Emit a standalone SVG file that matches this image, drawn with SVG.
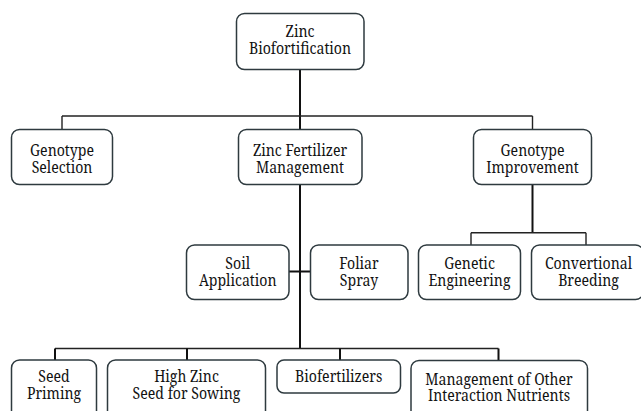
<svg xmlns="http://www.w3.org/2000/svg" width="641" height="411" viewBox="0 0 641 411">
<style>
.box{fill:#fff;stroke:#2e3a3f;stroke-width:1.5}
.t{font-family:'Noto Serif','DejaVu Serif',serif;font-size:15.5px;fill:#111;text-anchor:middle}
.c{fill:none;stroke:#111;stroke-width:2}
.c2{fill:none;stroke:#222;stroke-width:1.4}
</style>
<rect width="641" height="411" fill="#fff"/>
<g id="connectors">
<path class="c" d="M300 69.5V129.5"/>
<path class="c2" d="M62 116H532.5"/>
<path class="c2" d="M62 116V129.5M532.5 116V129.5"/>
<path class="c" d="M300 184.5V348.5"/>
<path class="c" d="M289 271.5H310.5"/>
<path class="c2" d="M55 348.5H498.5"/>
<path class="c" d="M55 348.5V360M187 348.5V360M340 348.5V360M498.5 348.5V360.5"/>
<path class="c" d="M532.5 184.5V232.7"/>
<path class="c2" d="M471 232.7H586M471 232.7V245M586 232.7V245"/>
</g>
<g id="root"><rect class="box" x="236.5" y="13.5" width="127.5" height="56" rx="8"/><text class="t" transform="translate(300 37) scale(0.91 1)">Zinc</text><text class="t" transform="translate(300 53.5) scale(0.91 1)">Biofortification</text></g>
<g id="genotype-selection"><rect class="box" x="11.5" y="129.5" width="101" height="55" rx="8"/><text class="t" transform="translate(62 155.5) scale(0.91 1)">Genotype</text><text class="t" transform="translate(62 172.5) scale(0.91 1)">Selection</text></g>
<g id="zinc-fertilizer"><rect class="box" x="238.5" y="129.5" width="123.5" height="55" rx="8"/><text class="t" transform="translate(300 155.5) scale(0.91 1)">Zinc Fertilizer</text><text class="t" transform="translate(300 173) scale(0.91 1)">Management</text></g>
<g id="genotype-improvement"><rect class="box" x="473.5" y="129.5" width="118" height="55" rx="8"/><text class="t" transform="translate(532.5 155.5) scale(0.91 1)">Genotype</text><text class="t" transform="translate(532.5 172.5) scale(0.91 1)">Improvement</text></g>
<g id="soil"><rect class="box" x="186.5" y="245" width="102.5" height="54.5" rx="8"/><text class="t" transform="translate(237.7 269) scale(0.91 1)">Soil</text><text class="t" transform="translate(237.7 285.5) scale(0.91 1)">Application</text></g>
<g id="foliar"><rect class="box" x="310.5" y="245" width="97.5" height="54.5" rx="8"/><text class="t" transform="translate(359 269) scale(0.91 1)">Foliar</text><text class="t" transform="translate(359 285.5) scale(0.91 1)">Spray</text></g>
<g id="genetic"><rect class="box" x="418.5" y="245" width="102" height="54.5" rx="8"/><text class="t" transform="translate(469.5 269) scale(0.91 1)">Genetic</text><text class="t" transform="translate(469.5 285.5) scale(0.91 1)">Engineering</text></g>
<g id="conventional"><rect class="box" x="531.5" y="245" width="112" height="54.5" rx="8"/><text class="t" transform="translate(588.5 269) scale(0.91 1)">Convertional</text><text class="t" transform="translate(588.5 285.5) scale(0.91 1)">Breeding</text></g>
<g id="seed-priming"><rect class="box" x="11.5" y="360" width="85" height="70" rx="8"/><text class="t" transform="translate(54 382) scale(0.91 1)">Seed</text><text class="t" transform="translate(54 398.5) scale(0.91 1)">Priming</text></g>
<g id="high-zinc"><rect class="box" x="107.5" y="360" width="158" height="70" rx="8"/><text class="t" transform="translate(186.5 382) scale(0.91 1)">High Zinc</text><text class="t" transform="translate(186.5 398.5) scale(0.91 1)">Seed for Sowing</text></g>
<g id="biofertilizers"><rect class="box" x="277" y="360" width="123.5" height="33" rx="7"/><text class="t" transform="translate(338.7 382) scale(0.91 1)">Biofertilizers</text></g>
<g id="management"><rect class="box" x="411" y="360.5" width="176.5" height="70" rx="8"/><text class="t" transform="translate(499 385) scale(0.91 1)">Management of Other</text><text class="t" transform="translate(499 400.5) scale(0.91 1)">Interaction Nutrients</text></g>
</svg>
